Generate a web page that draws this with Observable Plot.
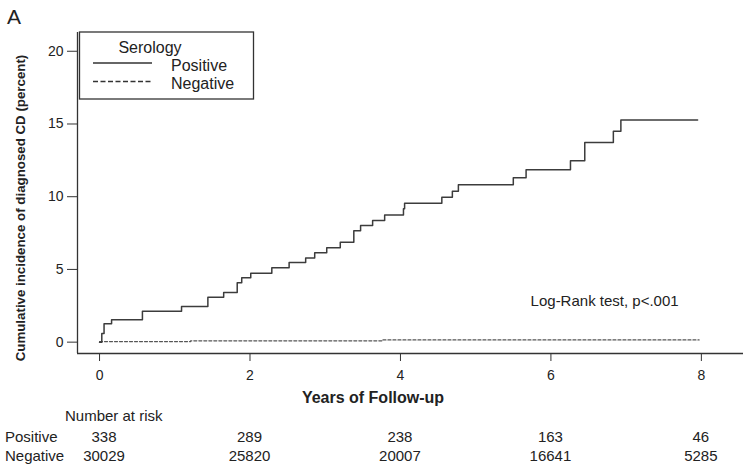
<!DOCTYPE html>
<html><head><meta charset="utf-8">
<script src="https://cdn.jsdelivr.net/npm/d3@7"></script>
<script src="https://cdn.jsdelivr.net/npm/@observablehq/plot@0.6"></script>
<style>
body{margin:0;background:#fff;font-family:"Liberation Sans",Arial,sans-serif}
#wrap{position:relative;width:752px;height:469px}
</style></head><body><div id="wrap"></div>
<script>
// Serology positive: cumulative incidence (%) step curve
const posTime = [0, 0.03, 0.06, 0.16, 0.57, 1.09, 1.44, 1.65, 1.83, 1.89, 2.01, 2.29, 2.52, 2.74, 2.86, 3.02, 3.20, 3.38, 3.47, 3.63, 3.79, 4.04, 4.055, 4.55, 4.69, 4.77, 5.50, 5.67, 6.26, 6.45, 6.83, 6.93, 7.95];
const posInc  = [0, 0.6, 1.26, 1.54, 2.13, 2.45, 3.09, 3.42, 4.08, 4.42, 4.74, 5.11, 5.48, 5.78, 6.14, 6.49, 6.87, 7.66, 8.02, 8.36, 8.75, 9.17, 9.55, 9.97, 10.38, 10.82, 11.3, 11.85, 12.47, 13.72, 14.5, 15.28, 15.28];
// Serology negative
const negTime = [0, 1.21, 3.76, 7.97];
const negInc  = [0.04, 0.09, 0.15, 0.15];
// Number at risk
const riskTimes = [0, 2, 4, 6, 8];
const riskPositive = [338, 289, 238, 163, 46];
const riskNegative = [30029, 25820, 20007, 16641, 5285];
const xTicks = [0, 2, 4, 6, 8];
const yTicks = [0, 5, 10, 15, 20];
const groups = ["Positive", "Negative"];
const logRank = "Log-Rank test, p<.001";
const logRankPos = {time: 5.73, inc: 2.8};

const xDomain = [-0.293, 8.56];
const yDomain = [-0.78, 21.29];

const pos = posTime.map((t, i) => ({time: t, inc: posInc[i]}));
const neg = negTime.map((t, i) => ({time: t, inc: negInc[i]}));

const FONT = "'Liberation Sans', Arial, sans-serif";
const plot = Plot.plot({
  width: 752, height: 469,
  marginLeft: 77, marginRight: 9, marginTop: 32, marginBottom: 116,
  x: {domain: xDomain},
  y: {domain: yDomain},
  style: {fontFamily: FONT, color: "#222", background: "white", overflow: "visible"},
  marks: [
    Plot.ruleX([xDomain[0]], {stroke: "#333", strokeWidth: 1.3}),
    Plot.ruleY([yDomain[0]], {stroke: "#333", strokeWidth: 1.3}),
    Plot.axisX(xTicks, {tickSize: 8, tickPadding: 9, fontSize: 14, label: null, stroke: "#333"}),
    Plot.axisY(yTicks, {tickSize: 10, tickPadding: 4, fontSize: 14, label: null, stroke: "#333"}),
    Plot.line(neg, {x: "time", y: "inc", curve: "step-after", stroke: "#555", strokeWidth: 1.2, strokeDasharray: "3,2"}),
    Plot.line(pos, {x: "time", y: "inc", curve: "step-after", stroke: "#3c3c3c", strokeWidth: 1.5}),
    Plot.text([logRankPos], {x: "time", y: "inc", text: () => logRank, textAnchor: "start", fontSize: 15, fill: "#222"})
  ]
});
document.getElementById("wrap").appendChild(plot);

const svg = d3.select(plot);
const xs = plot.scale("x");

svg.append("text").attr("x", 7).attr("y", 24).attr("text-anchor", "start")
  .attr("font-size", 21).attr("fill", "#222").text("A");

svg.append("text")
  .attr("transform", "translate(20,208) rotate(-90)")
  .attr("text-anchor", "middle").attr("dominant-baseline", "central")
  .attr("font-size", 13.3).attr("font-weight", "bold").attr("fill", "#222")
  .text("Cumulative incidence of diagnosed CD (percent)");

svg.append("text")
  .attr("x", 373).attr("y", 397)
  .attr("text-anchor", "middle").attr("dominant-baseline", "central")
  .attr("font-size", 16).attr("font-weight", "bold").attr("fill", "#222")
  .text("Years of Follow-up");

// legend
const lg = svg.append("g");
lg.append("rect").attr("x", 79.5).attr("y", 32).attr("width", 174).attr("height", 67)
  .attr("fill", "white").attr("stroke", "#333").attr("stroke-width", 1.3);
lg.append("text").attr("x", 150).attr("y", 47).attr("text-anchor", "middle").attr("dominant-baseline", "central")
  .attr("font-size", 16).attr("fill", "#222").text("Serology");
const dashes = [null, "5,2.5"];
groups.forEach((g, i) => {
  const y = 63 + i * 18.5;
  lg.append("line").attr("x1", 93).attr("x2", 152).attr("y1", y).attr("y2", y)
    .attr("stroke", "#333").attr("stroke-width", 1.5).attr("stroke-dasharray", dashes[i]);
  lg.append("text").attr("x", 171).attr("y", y + 2).attr("text-anchor", "start").attr("dominant-baseline", "central")
    .attr("font-size", 16).attr("fill", "#222").text(g);
});

// number at risk table
const tg = svg.append("g").attr("font-size", 15).attr("fill", "#222");
tg.append("text").attr("x", 65).attr("y", 415).attr("text-anchor", "start").attr("dominant-baseline", "central").text("Number at risk");
[[groups[0], riskPositive, 436], [groups[1], riskNegative, 455]].forEach(([name, vals, y]) => {
  tg.append("text").attr("x", 5).attr("y", y).attr("text-anchor", "start").attr("dominant-baseline", "central").text(name);
  vals.forEach((v, i) => {
    tg.append("text").attr("x", xs.apply(riskTimes[i]) + (i === 0 ? 5 : 0)).attr("y", y)
      .attr("text-anchor", "middle").attr("dominant-baseline", "central").text(v);
  });
});
</script>
</body></html>
